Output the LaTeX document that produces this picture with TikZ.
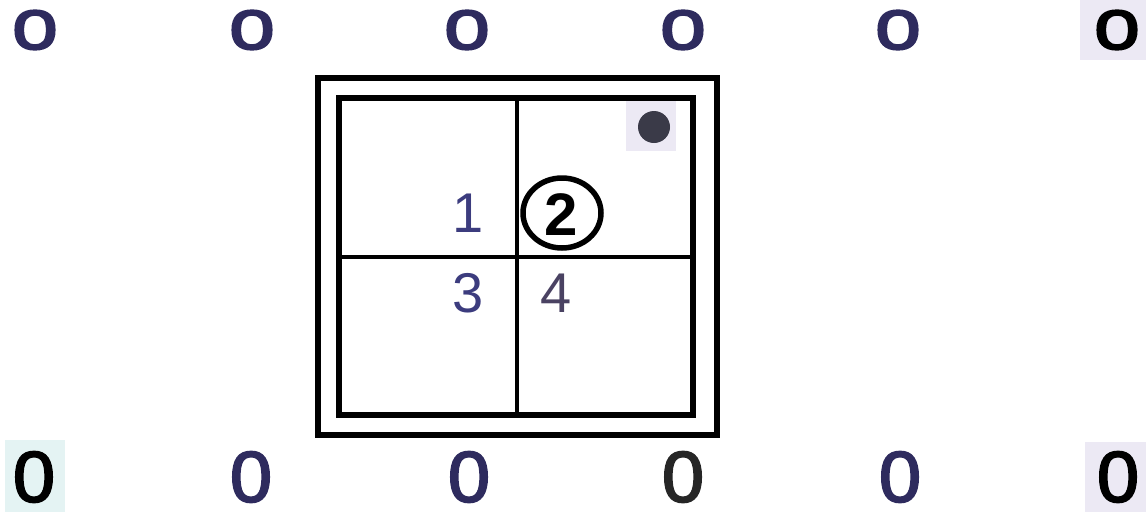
\documentclass[tikz,border=0pt]{standalone}
\usepackage{fontspec}
\setmainfont{Liberation Sans}
\newfontfamily\ringfont[FakeBold=2.5]{Liberation Sans}
\definecolor{navy}{HTML}{2E2B5E}
\definecolor{ink}{HTML}{3C3C7E}
\definecolor{inkb}{HTML}{4A4262}
\definecolor{lav}{HTML}{ECE9F4}
\definecolor{cyanbg}{HTML}{E4F3F3}
\definecolor{dotc}{HTML}{3A3A48}
\begin{document}
\begin{tikzpicture}[x=1pt,y=-1pt,
  topo/.style={inner sep=0pt, text=navy, font=\fontsize{72}{72}\ringfont},
  boto/.style={inner sep=0pt, text=navy, font=\fontsize{72}{72}\ringfont},
  lbl/.style={inner sep=0pt, text=ink, font=\fontsize{56}{56}\selectfont},
  frame/.style={line width=5.5pt, draw=black},
  divider/.style={line width=4pt, draw=black}]
\useasboundingbox (0,0) rectangle (1146,512);
\fill[white] (0,0) rectangle (1146,512);
% light backgrounds behind some glyphs
\fill[lav] (1080,0) rectangle (1146,60);
\fill[cyanbg] (5,440) rectangle (65,512);
\fill[lav] (1085,442) rectangle (1146,512);
\fill[lav] (626,101) rectangle (676,151);
% top row
\node[topo] (t1) at (35,30) {\scalebox{1.15}[1]{o}};
\node[topo] (t2) at (252,30) {\scalebox{1.15}[1]{o}};
\node[topo] (t3) at (467,30) {\scalebox{1.15}[1]{o}};
\node[topo] (t4) at (683,30) {\scalebox{1.15}[1]{o}};
\node[topo] (t5) at (898,30) {\scalebox{1.15}[1]{o}};
\node[topo, text=black] (t6) at (1117,30) {\scalebox{1.15}[1]{o}};
% bottom row
\node[boto, text=black] (b1) at (34,477) {\scalebox{1.05}[1]{0}};
\node[boto] (b2) at (251,477) {\scalebox{1.05}[1]{0}};
\node[boto] (b3) at (469,477) {\scalebox{1.05}[1]{0}};
\node[boto, text=black!85] (b4) at (683,477) {\scalebox{1.05}[1]{0}};
\node[boto] (b5) at (900,477) {\scalebox{1.05}[1]{0}};
\node[boto, text=black] (b6) at (1118,477) {\scalebox{1.05}[1]{0}};
% frames
\draw[frame] (318,78) rectangle (717,435);
\draw[frame] (339,98) rectangle (693,415);
\draw[divider] (517,98) -- (517,415);
\draw[divider] (339,257) -- (693,257);
% dot
\fill[dotc] (654,127) circle (16pt);
% labels
\node[lbl] (n1) at (468,213) {1};
\node[lbl] (n3) at (468,293) {3};
\node[lbl, text=inkb] (n4) at (556,293) {4};
\draw[line width=5.5pt] (562,213) ellipse [x radius=39pt, y radius=35pt];
\node[inner sep=0pt, font=\fontsize{60}{60}\selectfont\bfseries] (n2) at (561,215) {2};
\end{tikzpicture}
\end{document}
